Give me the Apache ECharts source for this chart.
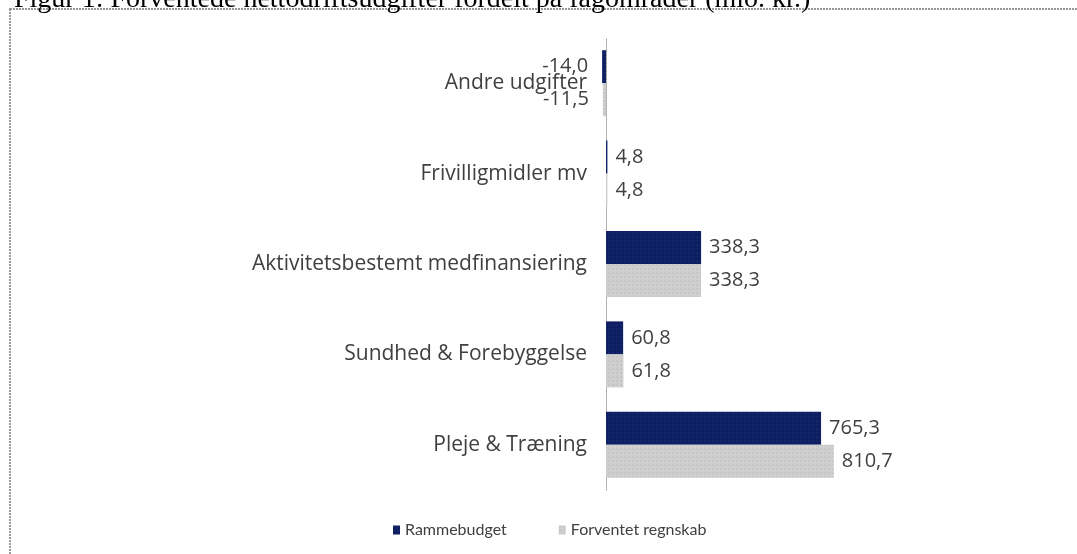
<!DOCTYPE html>
<html>
<head>
<meta charset="utf-8">
<script src="https://cdn.jsdelivr.net/npm/echarts@6/dist/echarts.min.js"></script>
<style>html,body{margin:0;padding:0;background:#fff;}#c{width:1077px;height:554px;}</style>
</head>
<body>
<div id="c"></div>
<script>
const titleText = 'Figur 1: Forventede nettodriftsudgifter fordelt på fagområder (mio. kr.)';
const categories = ['Pleje & Træning', 'Sundhed & Forebyggelse', 'Aktivitetsbestemt medfinansiering', 'Frivilligmidler mv', 'Andre udgifter'];
const seriesNames = ['Rammebudget', 'Forventet regnskab'];
const rammebudget = [765.3, 60.8, 338.3, 4.8, -14.0];
const forventet = [810.7, 61.8, 338.3, 4.8, -11.5];

const chart = echarts.init(document.getElementById('c'), null, {renderer: 'canvas'});
const fmt = p => p.value.toFixed(1).replace('.', ',');
const toItems = arr => arr.map(v => ({value: v, label: {position: v < 0 ? 'left' : 'right', distance: v < 0 ? 14 : 8}}));
const labelCfg = {
  show: true, formatter: fmt,
  fontFamily: 'Open Sans', fontSize: 20, color: '#404040'
};
chart.setOption({
  animation: false,
  title: {
    text: titleText, left: 9, top: -19,
    textStyle: {fontFamily: 'Liberation Serif', fontSize: 28, fontWeight: 'normal', color: '#000'}
  },
  graphic: [{
    type: 'rect', silent: true,
    shape: {x: 10, y: 9, width: 1200, height: 700},
    style: {fill: 'none', stroke: '#9a9a9a', lineWidth: 2, lineDash: [2, 1]}
  }],
  legend: {
    data: seriesNames, left: 388, top: 517, itemGap: 52,
    icon: 'rect', itemWidth: 7, itemHeight: 9,
    textStyle: {fontFamily: 'Lato', fontSize: 16, color: '#404040'}
  },
  grid: {left: 592, width: 295, top: 38, height: 452},
  xAxis: {type: 'value', min: -50, max: 1000, show: false},
  yAxis: {
    type: 'category', data: categories,
    axisLine: {show: true, onZero: true, lineStyle: {color: '#a0a0a0', type: 'dotted', width: 1}},
    axisTick: {show: false},
    axisLabel: {fontFamily: 'Open Sans', fontSize: 21, color: '#404040', margin: 5}
  },
  series: [
    {
      name: seriesNames[0], type: 'bar', data: toItems(rammebudget), barWidth: 33, barGap: '0%',
      itemStyle: {color: '#0d1f62', decal: {symbol: 'rect', symbolSize: 0.5, dashArrayX: [2, 2], dashArrayY: [2, 2], color: 'rgba(70,90,150,0.6)'}},
      label: labelCfg
    },
    {
      name: seriesNames[1], type: 'bar', data: toItems(forventet), barWidth: 33, barGap: '0%',
      itemStyle: {color: '#cfcfcf', decal: {symbol: 'rect', symbolSize: 0.5, dashArrayX: [2, 2], dashArrayY: [2, 2], color: 'rgba(150,150,150,0.6)'}},
      label: labelCfg
    }
  ]
});
</script>
</body>
</html>
